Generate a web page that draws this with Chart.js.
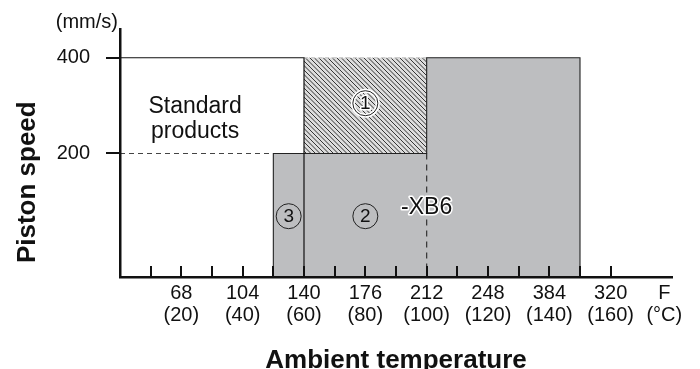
<!DOCTYPE html>
<html><head><meta charset="utf-8">
<script src="https://cdn.jsdelivr.net/npm/chart.js@4.4.0/dist/chart.umd.min.js"></script>
<style>html,body{margin:0;padding:0;background:#fff;}#wrap{width:700px;height:369px;}</style>
</head><body>
<div id="wrap"><canvas id="c" width="700" height="369"></canvas></div>
<script>
// ---------------- data ----------------
const tempC = [20, 40, 60, 80, 100, 120, 140, 160];                 // labelled ticks (°C)
const tempF = ['68', '104', '140', '176', '212', '248', '384', '320']; // printed F labels
const minorTicksC = [10, 20, 30, 40, 50, 60, 70, 80, 90, 100, 110, 120, 130, 140, 150, 160];
const unitLabel = ['F', '(°C)'];
const speedTicks = [200, 400];                                      // mm/s

// grey (option) area: stepped outline
const grayTemps = [50, 100, 150];
const graySpeeds = [200, 400, 400];
// hatched area ①
const hatchTemps = [60, 100];
const hatchTop = [400, 400];
const hatchBottom = 200;
// standard products boundary
const standardTemps = [0, 60];
const standardSpeeds = [400, 400];
// dashed guide at 200 mm/s
const guideTemps = [0, 50];
const guideSpeeds = [200, 200];
// -XB6 dashed boundary
const xb6Temp = 100;
const xb6Speed = 200;

// ---------------- scale settings ----------------
const SPEED_MIN = -58, SPEED_MAX = 460, TEMP_MIN = 0, TEMP_MAX = 180, UNIT_POS = 177.5;
const FONT = '"Liberation Sans", Arial, Helvetica, sans-serif';
const INK = '#111';

function pts(xs, ys) { return xs.map((x, i) => ({x: x, y: ys[i]})); }

const stdOutline = pts(standardTemps, standardSpeeds).concat([{x: standardTemps[1], y: SPEED_MIN}]);
const grayOutline = [{x: grayTemps[0], y: SPEED_MIN}];
for (let i = 0; i < grayTemps.length - 1; i++) {
  grayOutline.push({x: grayTemps[i], y: graySpeeds[i]});
  grayOutline.push({x: grayTemps[i + 1], y: graySpeeds[i]});
}
grayOutline.push({x: grayTemps[grayTemps.length - 1], y: graySpeeds[graySpeeds.length - 1]});
grayOutline.push({x: grayTemps[grayTemps.length - 1], y: SPEED_MIN});

function hatchPattern() {
  const s = 9, c = document.createElement('canvas');
  c.width = s; c.height = s;
  const g = c.getContext('2d');
  g.fillStyle = '#dcdcdc'; g.fillRect(0, 0, s, s);
  g.strokeStyle = '#333'; g.lineWidth = 1;
  for (const o of [-9, -4.5, 0, 4.5, 9]) {
    g.beginPath(); g.moveTo(o, 0); g.lineTo(o + s, s); g.stroke();
  }
  return g.createPattern(c, 'repeat');
}

const annotations = [
  {lines: ['Standard', 'products'], x: 24.5, y: 272, size: 23, lh: 25},
  {lines: ['-XB6'], x: 100, y: 86, size: 23, halo: true},
  {circled: '1', x: 80, y: 305, halo: true},
  {circled: '2', x: 80, y: 69},
  {circled: '3', x: 55, y: 69}
];

const xTickMarks = {
  id: 'xTickMarks',
  afterDatasetsDraw(chart) {
    const ctx = chart.ctx, xs = chart.scales.x, b = chart.chartArea.bottom;
    ctx.save();
    ctx.strokeStyle = INK; ctx.lineWidth = 2;
    minorTicksC.forEach(v => {
      const px = Math.round(xs.getPixelForValue(v));
      ctx.beginPath(); ctx.moveTo(px, b); ctx.lineTo(px, b - 11); ctx.stroke();
    });
    ctx.restore();
  }
};

const texts = {
  id: 'texts',
  afterDraw(chart) {
    const ctx = chart.ctx, xs = chart.scales.x, ys = chart.scales.y, ca = chart.chartArea;
    ctx.save();
    ctx.fillStyle = INK;
    // y axis title
    ctx.save();
    ctx.translate(28, ys.getPixelForValue(140));
    ctx.rotate(-Math.PI / 2);
    ctx.font = 'bold 26px ' + FONT;
    ctx.textAlign = 'center'; ctx.textBaseline = 'middle';
    ctx.fillText('Piston speed', 0, 0);
    ctx.restore();
    // unit
    ctx.font = '20px ' + FONT;
    ctx.textAlign = 'right'; ctx.textBaseline = 'middle';
    ctx.fillText('(mm/s)', ca.left - 2, ca.top - 7);
    // annotations
    annotations.forEach(a => {
      const px = xs.getPixelForValue(a.x), py = ys.getPixelForValue(a.y);
      ctx.textAlign = 'center'; ctx.textBaseline = 'middle';
      if (a.circled) {
        if (a.halo) {
          ctx.strokeStyle = '#fff'; ctx.lineWidth = 4;
          ctx.beginPath(); ctx.arc(px, py, 12.5, 0, Math.PI * 2); ctx.stroke();
        }
        ctx.strokeStyle = '#222'; ctx.lineWidth = 1;
        ctx.beginPath(); ctx.arc(px, py, 12.5, 0, Math.PI * 2); ctx.stroke();
        ctx.font = '19px ' + FONT;
        if (a.halo) {
          ctx.strokeStyle = '#fff'; ctx.lineWidth = 3; ctx.lineJoin = 'round';
          ctx.strokeText(a.circled, px, py + 1);
        }
        ctx.fillStyle = INK;
        ctx.fillText(a.circled, px, py + 1);
      } else {
        ctx.font = a.size + 'px ' + FONT;
        const lh = a.lh || a.size;
        const y0 = py - (a.lines.length - 1) * lh / 2;
        a.lines.forEach((t, i) => {
          if (a.halo) {
            ctx.strokeStyle = '#fff'; ctx.lineWidth = 3; ctx.lineJoin = 'round';
            ctx.strokeText(t, px, y0 + i * lh);
          }
          ctx.fillStyle = INK;
          ctx.fillText(t, px, y0 + i * lh);
        });
      }
    });
    ctx.restore();
  }
};

const lineBase = {pointRadius: 0, pointHoverRadius: 0, tension: 0, fill: false, showLine: true};

new Chart(document.getElementById('c'), {
  type: 'line',
  data: {
    datasets: [
      Object.assign({}, lineBase, {label: 'standard', data: stdOutline, borderColor: INK, borderWidth: 1.2, order: 1}),
      Object.assign({}, lineBase, {label: 'grayOutline', data: grayOutline, borderColor: '#222', borderWidth: 1.1, order: 1}),
      Object.assign({}, lineBase, {label: 'guide200', data: pts(guideTemps, guideSpeeds), borderColor: '#444', borderWidth: 1.2, borderDash: [5, 4], order: 1}),
      Object.assign({}, lineBase, {label: 'xb6', data: [{x: xb6Temp, y: xb6Speed}, {x: xb6Temp, y: SPEED_MIN}], borderColor: '#333', borderWidth: 1.2, borderDash: [6, 5], order: 1}),
      Object.assign({}, lineBase, {label: 'hatch', data: pts(hatchTemps, hatchTop), fill: {value: hatchBottom}, backgroundColor: hatchPattern(), borderColor: '#cfcfcf', borderWidth: 1.5, borderDash: [4, 3], order: 5}),
      Object.assign({}, lineBase, {label: 'gray', data: pts(grayTemps, graySpeeds), stepped: 'before', fill: 'start', backgroundColor: '#bdbec0', borderWidth: 0, order: 6})
    ]
  },
  options: {
    responsive: false,
    animation: false,
    devicePixelRatio: 1,
    layout: {padding: {top: 29, right: 28, bottom: 0, left: 0}},
    plugins: {legend: {display: false}, tooltip: {enabled: false}},
    events: [],
    scales: {
      x: {
        type: 'linear', min: TEMP_MIN, max: TEMP_MAX, position: 'bottom',
        afterBuildTicks: s => { s.ticks = tempC.map(v => ({value: v})).concat([{value: UNIT_POS}]); },
        afterFit: s => { s.height = 92; },
        grid: {display: false, drawTicks: false},
        border: {display: true, color: INK, width: 2.5, z: 1},
        ticks: {
          autoSkip: false, maxRotation: 0, minRotation: 0, padding: 5, color: INK,
          font: {family: FONT, size: 20, lineHeight: 1.1},
          callback: v => {
            const i = tempC.indexOf(v);
            if (i >= 0) return [tempF[i], '(' + tempC[i] + ')'];
            return unitLabel;
          }
        },
        title: {display: true, text: 'Ambient temperature', color: INK,
          font: {family: FONT, size: 26, weight: 'bold', lineHeight: 1}, padding: {top: 0, bottom: -5}}
      },
      y: {
        type: 'linear', min: SPEED_MIN, max: SPEED_MAX,
        afterBuildTicks: s => { s.ticks = speedTicks.map(v => ({value: v})); },
        afterFit: s => { s.width = 120; },
        grid: {display: true, drawOnChartArea: false, drawTicks: true, tickLength: 14, color: INK, lineWidth: 2},
        border: {display: true, color: INK, width: 2.5, z: 1},
        ticks: {padding: 16, color: INK, font: {family: FONT, size: 20}},
        title: {display: false}
      }
    }
  },
  plugins: [xTickMarks, texts]
});
</script>
</body></html>
